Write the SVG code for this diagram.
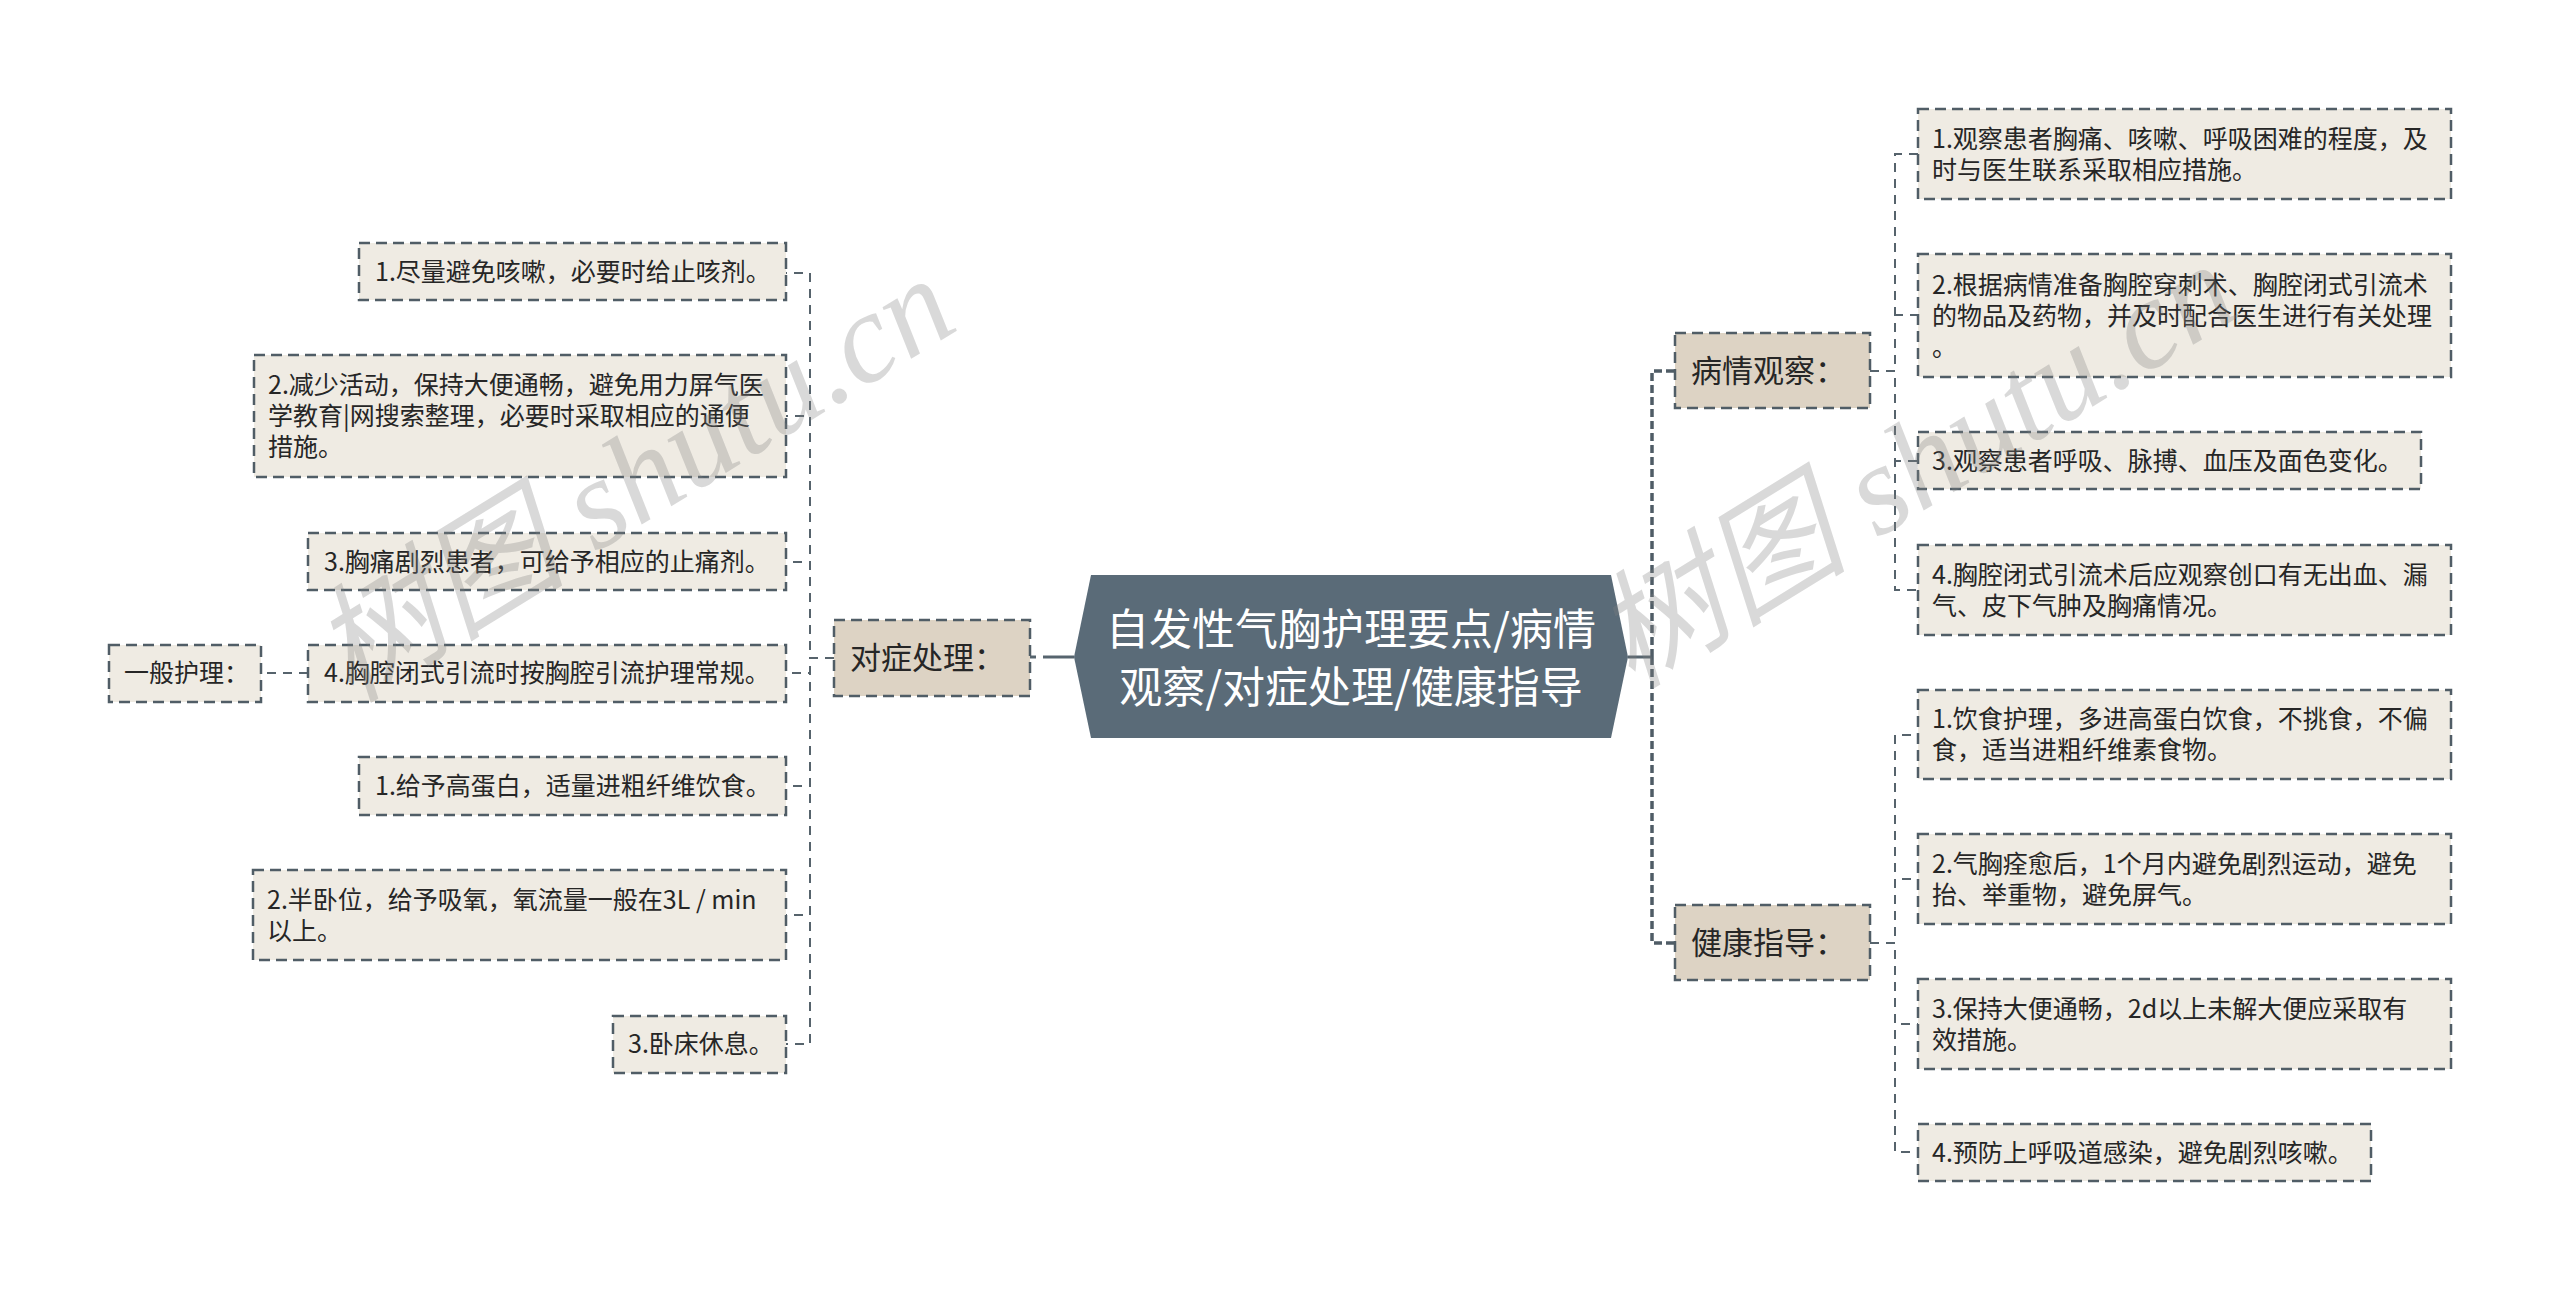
<svg xmlns="http://www.w3.org/2000/svg" width="2560" height="1291" viewBox="0 0 2560 1291">
<style>
.bx{stroke:#505d66;stroke-width:2.5;stroke-dasharray:11 6}
.leaf{fill:#efebe3}
.branch{fill:#ddd3c4}
.t{font-family:"Noto Sans CJK SC","Liberation Sans",sans-serif;fill:#262626;font-size:25px}
.tb{font-size:31px}
.tc{font-family:"Noto Sans CJK SC","Liberation Sans",sans-serif;font-size:43px;fill:#ffffff;text-anchor:middle}
.conn{fill:none;stroke:#56636c;stroke-width:2;stroke-dasharray:9 7}
.main{fill:none;stroke:#4f5c66;stroke-width:3.5;stroke-dasharray:8 4}
.solid{fill:none;stroke:#56646e;stroke-width:3}
.wm{font-family:"Liberation Serif","Noto Sans CJK SC",serif;font-style:italic;font-size:128px;fill:#808080;fill-opacity:0.3}
</style>
<rect width="2560" height="1291" fill="#ffffff"/>
<g id="connectors">
<path class="solid" d="M1074 657 H1043"/>
<path class="solid" d="M1030 657 H1036"/>
<path class="solid" d="M1628 657 H1652"/>
<path class="main" d="M1652 657 V371 H1675"/>
<path class="main" d="M1652 657 V943 H1675"/>
<path class="conn" d="M834 658 H810 V273 H786"/>
<path class="conn" d="M834 658 H810 V416 H786"/>
<path class="conn" d="M834 658 H810 V562 H786"/>
<path class="conn" d="M834 658 H810 V673 H786"/>
<path class="conn" d="M834 658 H810 V786 H786"/>
<path class="conn" d="M834 658 H810 V915 H786"/>
<path class="conn" d="M834 658 H810 V1044 H786"/>
<path class="conn" d="M308 673 H261"/>
<path class="conn" d="M1870 371 H1895 V154 H1918"/>
<path class="conn" d="M1870 371 H1895 V315 H1918"/>
<path class="conn" d="M1870 371 H1895 V461 H1918"/>
<path class="conn" d="M1870 371 H1895 V590 H1918"/>
<path class="conn" d="M1870 943 H1895 V735 H1918"/>
<path class="conn" d="M1870 943 H1895 V879 H1918"/>
<path class="conn" d="M1870 943 H1895 V1024 H1918"/>
<path class="conn" d="M1870 943 H1895 V1152 H1918"/>
</g>
<g id="root">
<polygon points="1074,657 1091,575 1611,575 1628,657 1611,738 1091,738" fill="#5a6b78"/>
<text class="tc" x="1351" y="645">自发性气胸护理要点/病情</text>
<text class="tc" x="1351" y="703">观察/对症处理/健康指导</text>
</g>
<g id="b-duizheng">
<rect class="bx branch" x="834" y="620" width="196" height="76"/>
<text class="t tb" x="850" y="669">对症处理：</text>
</g>
<g id="b-bingqing">
<rect class="bx branch" x="1675" y="333" width="195" height="75"/>
<text class="t tb" x="1691" y="382">病情观察：</text>
</g>
<g id="b-jiankang">
<rect class="bx branch" x="1675" y="905" width="195" height="75"/>
<text class="t tb" x="1691" y="954">健康指导：</text>
</g>
<g id="l1">
<rect class="bx leaf" x="359" y="243" width="427" height="57"/>
<text class="t" x="375" y="281">1.尽量避免咳嗽，必要时给止咳剂。</text>
</g>
<g id="l2">
<rect class="bx leaf" x="254" y="355" width="532" height="122"/>
<text class="t" x="268" y="394">2.减少活动，保持大便通畅，避免用力屏气医</text>
<text class="t" x="268" y="425">学教育|网搜索整理，必要时采取相应的通便</text>
<text class="t" x="268" y="456">措施。</text>
</g>
<g id="l3">
<rect class="bx leaf" x="308" y="533" width="478" height="57"/>
<text class="t" x="324" y="571">3.胸痛剧烈患者，可给予相应的止痛剂。</text>
</g>
<g id="l4">
<rect class="bx leaf" x="308" y="645" width="478" height="57"/>
<text class="t" x="324" y="682">4.胸腔闭式引流时按胸腔引流护理常规。</text>
</g>
<g id="gn">
<rect class="bx leaf" x="109" y="645" width="152" height="57"/>
<text class="t" x="124" y="682">一般护理：</text>
</g>
<g id="l5">
<rect class="bx leaf" x="359" y="757" width="427" height="58"/>
<text class="t" x="375" y="795">1.给予高蛋白，适量进粗纤维饮食。</text>
</g>
<g id="l6">
<rect class="bx leaf" x="253" y="870" width="533" height="90"/>
<text class="t" x="267" y="909">2.半卧位，给予吸氧，氧流量一般在3L / min</text>
<text class="t" x="267" y="940">以上。</text>
</g>
<g id="l7">
<rect class="bx leaf" x="613" y="1016" width="173" height="57"/>
<text class="t" x="628" y="1053">3.卧床休息。</text>
</g>
<g id="r1">
<rect class="bx leaf" x="1918" y="109" width="533" height="90"/>
<text class="t" x="1932" y="148">1.观察患者胸痛、咳嗽、呼吸困难的程度，及</text>
<text class="t" x="1932" y="179">时与医生联系采取相应措施。</text>
</g>
<g id="r2">
<rect class="bx leaf" x="1918" y="254" width="533" height="123"/>
<text class="t" x="1932" y="294">2.根据病情准备胸腔穿刺术、胸腔闭式引流术</text>
<text class="t" x="1932" y="325">的物品及药物，并及时配合医生进行有关处理</text>
<text class="t" x="1932" y="356">。</text>
</g>
<g id="r3">
<rect class="bx leaf" x="1918" y="432" width="503" height="57"/>
<text class="t" x="1932" y="470">3.观察患者呼吸、脉搏、血压及面色变化。</text>
</g>
<g id="r4">
<rect class="bx leaf" x="1918" y="545" width="533" height="90"/>
<text class="t" x="1932" y="584">4.胸腔闭式引流术后应观察创口有无出血、漏</text>
<text class="t" x="1932" y="615">气、皮下气肿及胸痛情况。</text>
</g>
<g id="h1">
<rect class="bx leaf" x="1918" y="690" width="533" height="89"/>
<text class="t" x="1932" y="728">1.饮食护理，多进高蛋白饮食，不挑食，不偏</text>
<text class="t" x="1932" y="759">食，适当进粗纤维素食物。</text>
</g>
<g id="h2">
<rect class="bx leaf" x="1918" y="834" width="533" height="90"/>
<text class="t" x="1932" y="873">2.气胸痊愈后，1个月内避免剧烈运动，避免</text>
<text class="t" x="1932" y="904">抬、举重物，避免屏气。</text>
</g>
<g id="h3">
<rect class="bx leaf" x="1918" y="979" width="533" height="90"/>
<text class="t" x="1932" y="1018">3.保持大便通畅，2d以上未解大便应采取有</text>
<text class="t" x="1932" y="1049">效措施。</text>
</g>
<g id="h4">
<rect class="bx leaf" x="1918" y="1124" width="453" height="57"/>
<text class="t" x="1932" y="1162">4.预防上呼吸道感染，避免剧烈咳嗽。</text>
</g>
<g id="watermark">
<text class="wm" transform="translate(350 704) rotate(-31.6)">树图 shutu.cn</text>
<text class="wm" transform="translate(1632 690) rotate(-31.6)">树图 shutu.cn</text>
</g>
</svg>
